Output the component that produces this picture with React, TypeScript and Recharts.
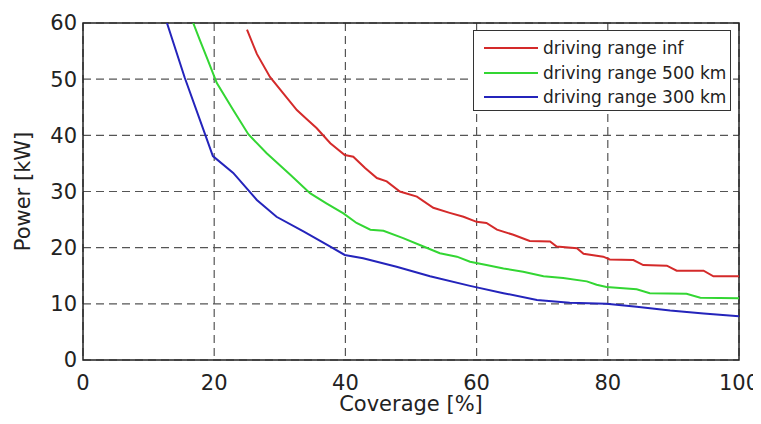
import React from 'react';
import { LineChart, Line, XAxis, YAxis, CartesianGrid, ReferenceArea, Legend } from 'recharts';

const xTicks = [0, 20, 40, 60, 80, 100];
const yTicks = [0, 10, 20, 30, 40, 50, 60];

const seriesNames = ['driving range inf', 'driving range 500 km', 'driving range 300 km'];
const seriesColors = ['#d42a2a', '#33d633', '#2424bb'];

const infX = [25, 26.5, 28.5, 30.5, 32.6, 34, 35.6, 37.7, 39.9, 41.2, 43, 44.8, 46.3, 48.3, 50.9, 53.4, 55.9, 58, 60, 61.5, 63.1, 65.6, 68.1, 71.2, 72.2, 75.3, 76.3, 79.3, 80.3, 83.9, 85.4, 89, 90.5, 94.6, 96.1, 100];
const infY = [58.8, 54.5, 50.4, 47.5, 44.5, 43, 41.3, 38.6, 36.5, 36.2, 34.2, 32.4, 31.8, 30, 29.1, 27.1, 26.2, 25.5, 24.6, 24.4, 23.2, 22.3, 21.2, 21.1, 20.2, 19.9, 18.9, 18.4, 17.9, 17.8, 16.9, 16.8, 15.9, 15.9, 14.9, 14.9];

const r500X = [16.8, 17.8, 19, 20.4, 22.9, 25.2, 28, 31.6, 34.6, 37.1, 39.7, 41.7, 43.8, 45.8, 48.8, 51.9, 54.4, 57, 59, 61.5, 64.1, 67.1, 70.2, 73.2, 76.8, 78.3, 79.8, 84.4, 86.4, 92, 94.1, 100];
const r500Y = [60, 57, 53.5, 49.3, 44.5, 40.2, 36.8, 33, 29.7, 27.9, 26.1, 24.4, 23.2, 23, 21.7, 20.2, 19, 18.4, 17.5, 16.9, 16.3, 15.7, 14.9, 14.6, 14, 13.4, 13, 12.6, 11.9, 11.8, 11.1, 11];

const r300X = [12.8, 15.5, 18.6, 19.8, 22.9, 26.5, 29.5, 33.6, 37.7, 39.9, 42.7, 47.8, 52.9, 59, 64.1, 69.2, 74.2, 79.8, 84.4, 89.5, 94.6, 100];
const r300Y = [60, 50.3, 40.2, 36.3, 33.3, 28.5, 25.5, 22.9, 20.2, 18.7, 18.1, 16.6, 14.9, 13.2, 11.9, 10.7, 10.2, 10, 9.5, 8.8, 8.3, 7.8];

const toPoints = (xs: number[], ys: number[]) => xs.map((x, i) => ({ x, y: ys[i] }));
const seriesData = [toPoints(infX, infY), toPoints(r500X, r500Y), toPoints(r300X, r300Y)];

const FONT = '"DejaVu Sans", "Liberation Sans", Arial, sans-serif';

const renderLegend = () => (
  <div
    style={{
      width: 258,
      height: 81,
      border: '1px solid #333',
      background: '#fff',
      fontFamily: FONT,
      fontSize: 17,
      color: '#222',
      paddingTop: 5,
      boxSizing: 'border-box',
    }}
  >
    {seriesNames.map((name, i) => (
      <div key={name} style={{ display: 'flex', alignItems: 'center', height: 24.5 }}>
        <div style={{ marginLeft: 10, width: 54, height: 2, background: seriesColors[i] }} />
        <span style={{ marginLeft: 5, whiteSpace: 'nowrap' }}>{name}</span>
      </div>
    ))}
  </div>
);

export default function App() {
  return (
    <div style={{ width: 753, height: 416, marginTop: -8, position: 'relative' }}>
      <LineChart width={753} height={416} margin={{ top: 23, right: 22, bottom: 26, left: 35 }}>
        <CartesianGrid stroke="#555" strokeDasharray="8 5" strokeWidth={1.2} />
        <XAxis
          type="number"
          dataKey="x"
          domain={[0, 100]}
          ticks={xTicks}
          allowDataOverflow
          axisLine={false}
          tickLine={false}
          tickSize={5}
          tickMargin={10}
          height={30}
          tick={{ fontSize: 21, fill: '#222', fontFamily: FONT }}
          label={{ value: 'Coverage [%]', position: 'insideBottom', offset: -21, fontSize: 21, fill: '#222', fontFamily: FONT }}
        />
        <YAxis
          type="number"
          dataKey="y"
          domain={[0, 60]}
          ticks={yTicks}
          allowDataOverflow
          axisLine={false}
          tickLine={false}
          tickSize={3}
          tickMargin={3}
          width={40}
          tick={{ fontSize: 21, fill: '#222', fontFamily: FONT }}
          label={{ value: 'Power [kW]', angle: -90, position: 'center', dx: -40, fontSize: 21, fill: '#222', fontFamily: FONT }}
        />
        {seriesData.map((d, i) => (
          <Line
            key={seriesNames[i]}
            data={d}
            dataKey="y"
            name={seriesNames[i]}
            stroke={seriesColors[i]}
            strokeWidth={2}
            dot={false}
            type="linear"
            isAnimationActive={false}
          />
        ))}
        <ReferenceArea x1={0} x2={100} y1={0} y2={60} fill="none" stroke="#222" strokeWidth={1.5} />
        <Legend
          layout="vertical"
          align="center"
          verticalAlign="middle"
          wrapperStyle={{ left: 465, top: 30, width: 258 }}
          content={renderLegend}
        />
      </LineChart>
    </div>
  );
}
